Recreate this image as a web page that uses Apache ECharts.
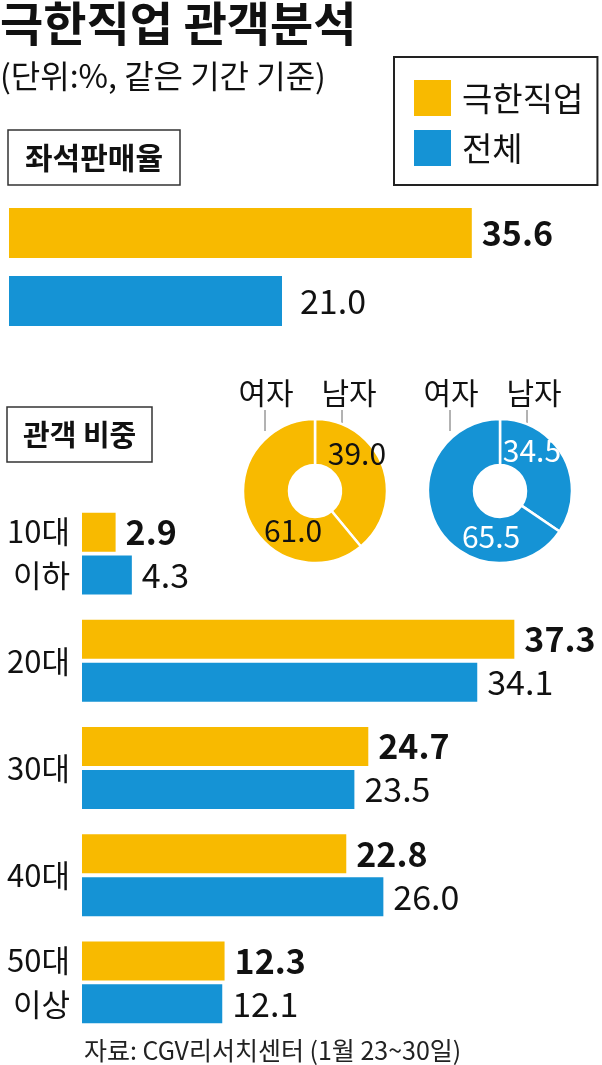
<!DOCTYPE html>
<html>
<head>
<meta charset="utf-8">
<script src="https://cdn.jsdelivr.net/npm/echarts@6/dist/echarts.min.js"></script>
<style>
html, body { margin: 0; padding: 0; background: #fff; }
#chart { width: 602px; height: 1065px; }
</style>
</head>
<body>
<div id="chart"></div>
<script>
// data
const seriesNames = ['극한직업', '전체'];
const seatValues = [35.6, 21.0];
const ageCategories = ['10대\n이하', '20대', '30대', '40대', '50대\n이상'];
const ageMovie = [2.9, 37.3, 24.7, 22.8, 12.3];
const ageAll = [4.3, 34.1, 23.5, 26.0, 12.1];
const genderNames = ['남자', '여자'];
const genderMovie = [39.0, 61.0];
const genderAll = [34.5, 65.5];

const YELLOW = '#F8BA00';
const BLUE = '#1593D5';
const KR = "'Noto Sans CJK KR', sans-serif";
const NUM = "'Liberation Sans Narrow', 'Noto Sans CJK KR', sans-serif";

let chart = echarts.init(document.getElementById('chart'));

// pie label nudges (inside labels sit off the arc middle in the original)
const pieShift = [
  [[-7, -20], [27, 22]],
  [[-14, -16], [37, 21]]
];

function valueLabel(bold, dist) {
  return {
    show: true,
    position: 'right',
    distance: dist,
    fontSize: 34,
    fontWeight: bold ? 'bold' : 'normal',
    fontFamily: NUM,
    color: '#111',
    formatter: p => p.value.toFixed(1)
  };
}

function donut(idx, center, values, color, textColor) {
  return {
    type: 'pie',
    center: center,
    radius: [26, 72],
    startAngle: 90,
    clockwise: true,
    silent: true,
    itemStyle: { color: color, borderColor: '#fff', borderWidth: 2.5 },
    label: {
      show: true,
      position: 'inside',
      fontSize: 30,
      fontFamily: NUM,
      color: textColor,
      formatter: p => p.value.toFixed(1)
    },
    labelLine: { show: false },
    labelLayout: p => ({ dx: pieShift[idx][p.dataIndex][0], dy: pieShift[idx][p.dataIndex][1] }),
    data: genderNames.map((n, i) => ({ name: n, value: values[i] }))
  };
}

const pieCenters = [[315, 491], [500, 491]];
let graphics = [];
pieCenters.forEach(c => {
  graphics.push(
    { type: 'text', style: { text: '여자', x: c[0] - 49, y: 393, textAlign: 'center', textVerticalAlign: 'middle', font: '30px ' + KR, fill: '#111' } },
    { type: 'text', style: { text: '남자', x: c[0] + 34, y: 393, textAlign: 'center', textVerticalAlign: 'middle', font: '30px ' + KR, fill: '#111' } },
    { type: 'line', shape: { x1: c[0] - 50, y1: 410, x2: c[0] - 50, y2: 431 }, style: { stroke: '#666', lineWidth: 1 } },
    { type: 'line', shape: { x1: c[0] + 27, y1: 410, x2: c[0] + 27, y2: 423 }, style: { stroke: '#666', lineWidth: 1 } }
  );
});

let option = {
  animation: false,
  backgroundColor: '#fff',
  color: [YELLOW, BLUE],
  title: [
    {
      text: '극한직업 관객분석', left: 0, top: 0, padding: 0,
      textStyle: { fontSize: 47, fontWeight: 'bold', lineHeight: 46, color: '#111', fontFamily: KR }
    },
    {
      text: '(단위:%, 같은 기간 기준)', left: 0, top: 59, padding: 0,
      textStyle: { fontSize: 32, fontWeight: 'normal', lineHeight: 34, color: '#111', fontFamily: KR }
    },
    {
      text: '좌석판매율', left: 8, top: 130, padding: [10, 17],
      borderColor: '#333', borderWidth: 1.5,
      textStyle: { fontSize: 30, fontWeight: 'bold', lineHeight: 35, color: '#111', fontFamily: KR }
    },
    {
      text: '관객 비중', left: 7, top: 407, padding: [10, 16],
      borderColor: '#333', borderWidth: 1.5,
      textStyle: { fontSize: 29, fontWeight: 'bold', lineHeight: 35, color: '#111', fontFamily: KR }
    },
    {
      text: '자료: CGV리서치센터 (1월 23~30일)', left: 84, top: 1037, padding: 0,
      textStyle: { fontSize: 25, fontWeight: 'normal', lineHeight: 26, color: '#222', fontFamily: NUM }
    }
  ],
  legend: {
    data: seriesNames,
    orient: 'vertical',
    left: 394,
    top: 57,
    icon: 'rect',
    itemWidth: 37,
    itemHeight: 36,
    itemGap: 14,
    padding: [23, 14, 19, 20],
    borderColor: '#222',
    borderWidth: 2,
    selectedMode: false,
    textStyle: { fontSize: 33, color: '#111', fontFamily: KR, padding: [0, 0, 0, 6] }
  },
  grid: [
    { left: 9, right: 8, top: 199, height: 136 },
    { left: 82, right: 10, top: 500, height: 536 }
  ],
  xAxis: [
    { type: 'value', gridIndex: 0, min: 0, max: 45, show: false },
    { type: 'value', gridIndex: 1, min: 0, max: 44, show: false }
  ],
  yAxis: [
    { type: 'category', gridIndex: 0, data: seriesNames, inverse: true, show: false },
    {
      type: 'category', gridIndex: 1, data: ageCategories, inverse: true,
      axisLine: { show: false }, axisTick: { show: false },
      axisLabel: { fontSize: 31, lineHeight: 44, color: '#111', fontFamily: NUM, margin: 12 }
    }
  ],
  series: [
    {
      name: seriesNames[0], type: 'bar', xAxisIndex: 0, yAxisIndex: 0, stack: 'seat',
      barWidth: 50, data: [seatValues[0], '-'], label: valueLabel(true, 10)
    },
    {
      name: seriesNames[1], type: 'bar', xAxisIndex: 0, yAxisIndex: 0, stack: 'seat',
      barWidth: 50, data: ['-', seatValues[1]], label: valueLabel(false, 18)
    },
    {
      name: seriesNames[0], type: 'bar', xAxisIndex: 1, yAxisIndex: 1,
      barWidth: 39, barGap: '10%', data: ageMovie, label: valueLabel(true, 10)
    },
    {
      name: seriesNames[1], type: 'bar', xAxisIndex: 1, yAxisIndex: 1,
      barWidth: 39, barGap: '10%', data: ageAll, label: valueLabel(false, 10)
    },
    donut(0, pieCenters[0], genderMovie, YELLOW, '#111'),
    donut(1, pieCenters[1], genderAll, BLUE, '#fff')
  ],
  graphic: graphics
};

chart.setOption(option);
</script>
</body>
</html>
